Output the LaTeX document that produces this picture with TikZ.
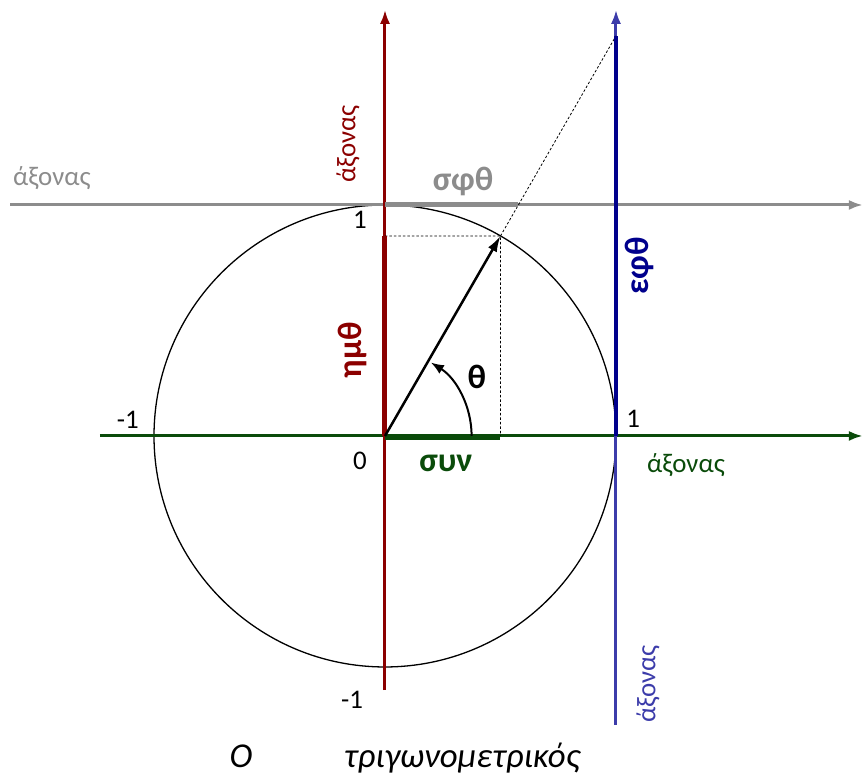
\documentclass[tikz,border=0pt]{standalone}
\usepackage{fontspec}
\setmainfont{Carlito}
\usetikzlibrary{arrows.meta}
\definecolor{sinred}{RGB}{139,0,0}
\definecolor{cosgreen}{RGB}{10,75,10}
\definecolor{tanblue}{RGB}{0,0,140}
\definecolor{axblue}{RGB}{60,60,170}
\definecolor{cotgray}{RGB}{140,140,140}
\tikzset{
  axis/.style={line width=3bp,-{Latex[length=14bp,width=10bp]}},
  part/.style={line width=5bp},
  proj/.style={line width=0.8bp,dash pattern=on 2.5bp off 2bp},
  lbl/.style={font=\fontsize{27}{30}\selectfont},
  biglbl/.style={font=\bfseries\fontsize{34}{38}\selectfont},
  ttl/.style={font=\itshape\fontsize{35}{40}\selectfont,anchor=base},
}

\begin{document}
\begin{tikzpicture}[x=231bp,y=231bp]
  \useasboundingbox (-1.6667,-1.4675) rectangle (2.0693,1.8874);
  % Points on the unit circle and the tangent axes
  \coordinate (O) at (0,0);
  \coordinate (P) at (60:1);
  \coordinate (Px) at (0.5,0);
  \coordinate (Py) at (0,0.866);
  \coordinate (T) at (1,1.732);
  \coordinate (C) at (0.577,1);
  % Unit circle
  \draw[line width=1.3bp] (O) circle (1);
  % Axes
  \coordinate (gs) at (-1.623,1);   \coordinate (ge) at (2.069,1);
  \coordinate (xs) at (-1.234,0);   \coordinate (xe) at (2.069,0);
  \coordinate (ys) at (0,-1.1);     \coordinate (ye) at (0,1.845);
  \coordinate (bs) at (1,-1.251);   \coordinate (be) at (1,1.845);
  \draw[axis,cotgray] (gs) -- (ge);
  \draw[axis,cosgreen] (xs) -- (xe);
  \draw[axis,axblue] (bs) -- (be);
  \draw[axis,sinred] (ys) -- (ye);
  % Projections
  \draw[proj] (Py) -- (P) -- (Px);
  \draw[proj] (P) -- (T);
  % Segments for the four ratios
  \draw[part,sinred] (O) -- (Py);
  \draw[part,cosgreen] ([yshift=-1.5bp]O) -- ([yshift=-1.5bp]Px);
  \draw[part,cotgray] (0,1) -- (C);
  \draw[line width=4bp,tanblue] (1,0) -- (T);
  % Radius vector and angle
  \draw[line width=2.5bp,-{Latex[length=16bp,width=10bp]}] (O) -- (P);
  \draw[line width=2bp,-{Latex[length=13bp,width=10bp]}] (0.375,0) arc[start angle=0,end angle=58,radius=0.375];
  % Labels
  \node[lbl,cotgray] (lblg) at (-1.442,1.117) {άξονας};
  \node[lbl,sinred,rotate=90] (lblr) at (-0.160,1.264) {άξονας};
  \node[lbl,cosgreen] (lblx) at (1.303,-0.125) {άξονας};
  \node[lbl,axblue,rotate=90] (lblb) at (1.139,-1.074) {άξονας};
  \node[biglbl,cotgray] (cot) at (0.338,1.100) {σφθ};
  \node[biglbl,tanblue,rotate=90] (tan) at (1.103,0.736) {εφθ};
  \node[biglbl,sinred,rotate=90] (sin) at (-0.140,0.372) {ημθ};
  \node[biglbl,cosgreen] (cos) at (0.264,-0.117) {συν};
  \node[biglbl] (th) at (0.398,0.255) {θ};
  \node[lbl] (n1) at (-0.108,0.935) {1};
  \node[lbl] (m1) at (-1.113,0.068) {-1};
  \node[lbl] (n0) at (-0.108,-0.108) {0};
  \node[lbl] (r1) at (1.074,0.074) {1};
  \node[lbl] (d1) at (-0.143,-1.143) {-1};
  \node[ttl] (ttl1) at (-0.623,-1.437) {Ο};
  \node[ttl] (ttl2) at (0.334,-1.437) {τριγωνομετρικός};
\end{tikzpicture}
\end{document}
